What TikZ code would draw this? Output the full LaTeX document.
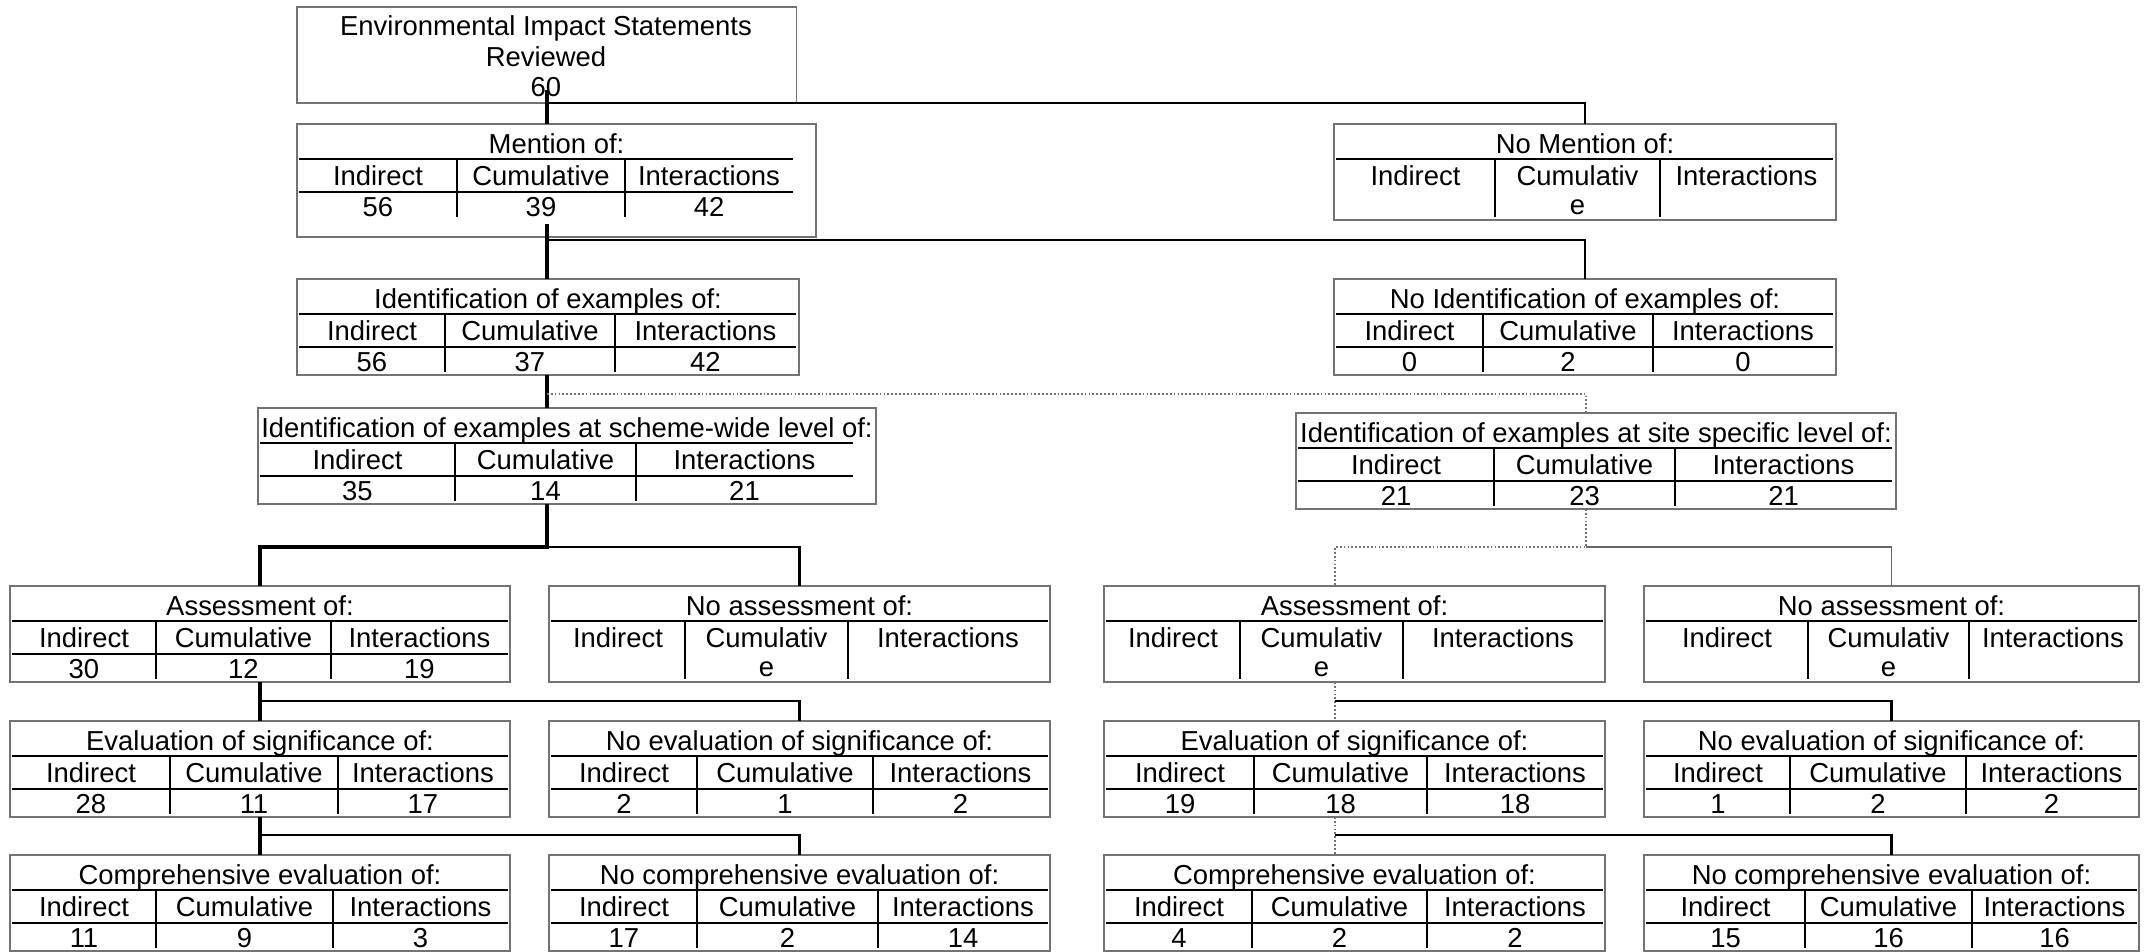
\documentclass[tikz,border=0pt]{standalone}
\usepackage{fontspec}
\setmainfont{Liberation Sans}

\tikzset{
  tbox/.style={draw=black!55, line width=0.4pt, anchor=north west, inner sep=0pt, outer sep=0pt},
  txt/.style={anchor=base, inner sep=0pt, font=\fontsize{7.8}{8.8}\selectfont},
  tabrule/.style={line width=0.6pt},
  main/.style={line width=1.15pt},
  conn/.style={line width=0.6pt},
  faint/.style={line width=0.4pt, black!60},
  dots/.style={line width=0.4pt, black!55, dash pattern=on 0.5pt off 0.6pt},
}

\def\boxh{96}
\def\numsplit#1/#2/#3\relax{\def\numA{#1}\def\numB{#2}\def\numC{#3}}

% name, left, top, width, rule end, divider 1, divider 2, title, numbers
\newcommand{\tabbox}[9]{%
  \node[tbox, minimum width=#4*0.01cm, minimum height=\boxh*0.01cm] (#1) at (#2,#3) {};
  \node[txt] at ({#2+#4/2},{#3+30}) {#8};
  \draw[tabrule] ({#2+2},{#3+35}) -- ({#2+#5},{#3+35});
  \draw[tabrule] ({#2+#6},{#3+35}) -- ({#2+#6},{#3+93});
  \draw[tabrule] ({#2+#7},{#3+35}) -- ({#2+#7},{#3+93});
  \node[txt] at ({#2+(2+#6)/2},{#3+62}) {Indirect};
  \node[txt] at ({#2+(#7+#5)/2},{#3+62}) {Interactions};
  \if\relax\detokenize{#9}\relax
    \node[txt] at ({#2+(#6+#7)/2},{#3+62}) {Cumulativ};
    \node[txt] at ({#2+(#6+#7)/2},{#3+91}) {e};
  \else
    \node[txt] at ({#2+(#6+#7)/2},{#3+62}) {Cumulative};
    \draw[tabrule] ({#2+2},{#3+68}) -- ({#2+#5},{#3+68});
    \numsplit#9\relax
    \node[txt] at ({#2+(2+#6)/2},{#3+93}) {\numA};
    \node[txt] at ({#2+(#6+#7)/2},{#3+93}) {\numB};
    \node[txt] at ({#2+(#7+#5)/2},{#3+93}) {\numC};
  \fi
}

\begin{document}
\begin{tikzpicture}[x=0.01cm, y=-0.01cm]
    \useasboundingbox (0,0) rectangle (2147,952);

    % Statements reviewed
    \node[tbox, minimum width=4.99cm, minimum height=0.96cm] (top) at (297,7) {};
    \node[txt, align=center] (toptext) at (546,97) {Environmental Impact Statements\\Reviewed\\60};

    % Mention / identification
    {\def\boxh{113}\tabbox{mention}{297}{124}{519}{496}{160}{328}{Mention of:}{56/39/42}}
    \tabbox{nomention}{1334}{124}{502}{499}{161}{326}{No Mention of:}{}
    \tabbox{ident}{297}{279}{502}{499}{148}{318}{Identification of examples of:}{56/37/42}
    \tabbox{noident}{1334}{279}{502}{499}{149}{319}{No Identification of examples of:}{0/2/0}
    \tabbox{scheme}{258}{408}{618}{595}{197}{378}{Identification of examples at scheme-wide level of:}{35/14/21}
    \tabbox{sitespec}{1296}{413}{600}{596}{198}{379}{Identification of examples at site specific level of:}{21/23/21}

    % Assessment
    \tabbox{assessL}{10}{586}{500}{498}{146}{321}{Assessment of:}{30/12/19}
    \tabbox{noassessL}{549}{586}{501}{499}{136}{299}{No assessment of:}{}
    \tabbox{assessR}{1104}{586}{501}{499}{136}{299}{Assessment of:}{}
    \tabbox{noassessR}{1644}{586}{495}{493}{164}{325}{No assessment of:}{}

    % Evaluation of significance
    \tabbox{evalL}{10}{721}{500}{498}{160}{328}{Evaluation of significance of:}{28/11/17}
    \tabbox{noevalL}{549}{721}{501}{499}{148}{324}{No evaluation of significance of:}{2/1/2}
    \tabbox{evalR}{1104}{721}{501}{499}{150}{323}{Evaluation of significance of:}{19/18/18}
    \tabbox{noevalR}{1644}{721}{495}{493}{146}{322}{No evaluation of significance of:}{1/2/2}

    % Comprehensive evaluation
    \tabbox{compL}{10}{855}{500}{498}{146}{323}{Comprehensive evaluation of:}{11/9/3}
    \tabbox{nocompL}{549}{855}{501}{499}{148}{329}{No comprehensive evaluation of:}{17/2/14}
    \tabbox{compR}{1104}{855}{501}{499}{148}{323}{Comprehensive evaluation of:}{4/2/2}
    \tabbox{nocompR}{1644}{855}{495}{493}{161}{328}{No comprehensive evaluation of:}{15/16/16}

    % Branch points
    \coordinate (spine) at (547,0);
    \coordinate (site) at (1586,0);
    \coordinate (rspine) at (1335,0);
    \coordinate (j2) at (547,240);
    \coordinate (j3) at (547,394);
    \coordinate (j4) at (547,547);
    \coordinate (j6) at (260,701);
    \coordinate (j7) at (260,835);

    % Connectors
    \draw[main, shorten <=-0.13cm] (spine |- top.south) -- (spine |- mention.north);
    \draw[conn] (spine |- top.south) -| (nomention.north);
    \draw[main, shorten <=-0.13cm] (spine |- mention.south) -- (spine |- ident.north);
    \draw[conn] (j2) -| (noident.north);
    \draw[main] (spine |- ident.south) -- (spine |- scheme.north);
    \draw[dots] (j3) -| (site |- sitespec.north);
    \draw[main] (spine |- scheme.south) -- (j4) -| (assessL.north);
    \draw[conn] (j4) -| (noassessL.north);
    \draw[dots] (site |- sitespec.south) -- (site |- j4) -| (rspine |- assessR.north);
    \draw[faint] (site |- j4) -| (noassessR.north);
    \draw[main] (assessL.south) -- (evalL.north);
    \draw[conn] (j6) -| (noevalL.north);
    \draw[main] (evalL.south) -- (compL.north);
    \draw[conn] (j7) -| (nocompL.north);
    \draw[dots] (rspine |- assessR.south) -- (rspine |- evalR.north);
    \draw[conn] (rspine |- j6) -| (noevalR.north);
    \draw[dots] (rspine |- evalR.south) -- (rspine |- compR.north);
    \draw[conn] (rspine |- j7) -| (nocompR.north);
\end{tikzpicture}
\end{document}
